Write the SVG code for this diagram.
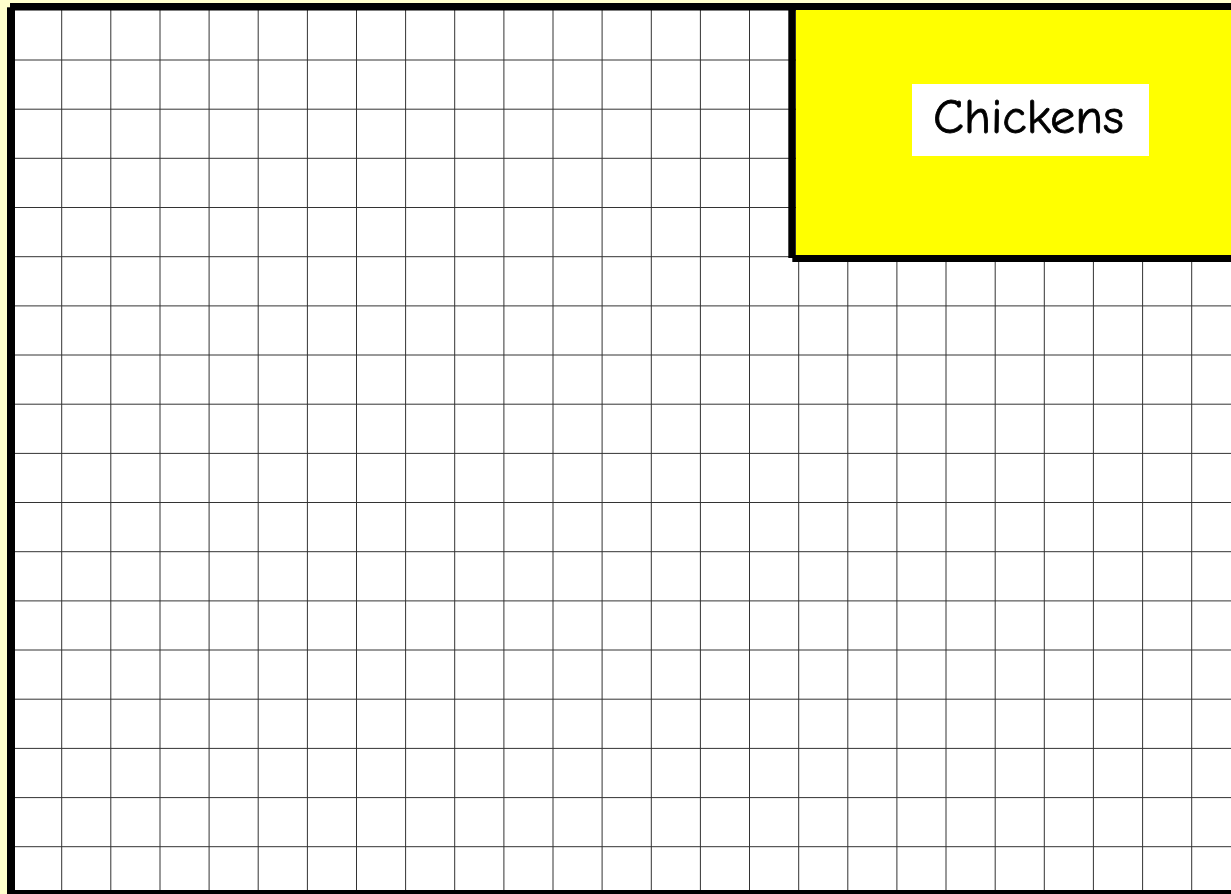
<svg xmlns="http://www.w3.org/2000/svg" width="1231" height="894" viewBox="0 0 1231 894">
<style>
.grid{fill:none;stroke:#333;stroke-width:1}
.frame{fill:#000}
.label{font-family:"Comic Sans MS","Comic Neue","Liberation Sans",sans-serif;font-size:49px;fill:#000;stroke:#000;stroke-width:0.8}
</style>
<rect x="0" y="0" width="1231" height="894" fill="#FFFFCC"/>
<g id="sheet">
<rect x="15" y="10" width="1216" height="880" fill="#fff"/>
<path class="grid" d="M61.7 10V890M110.8 10V890M160 10V890M209.1 10V890M258.2 10V890M307.4 10V890M356.5 10V890M405.6 10V890M454.7 10V890M503.9 10V890M553 10V890M602.1 10V890M651.3 10V890M700.4 10V890M749.5 10V890M798.7 10V890M847.8 10V890M896.9 10V890M946 10V890M995.2 10V890M1044.3 10V890M1093.4 10V890M1142.6 10V890M1191.7 10V890"/>
<path class="grid" d="M15 60H1231M15 109.2H1231M15 158.3H1231M15 207.5H1231M15 256.7H1231M15 305.9H1231M15 355H1231M15 404.2H1231M15 453.4H1231M15 502.5H1231M15 551.7H1231M15 600.9H1231M15 650H1231M15 699.2H1231M15 748.4H1231M15 797.6H1231M15 846.7H1231"/>
<rect class="frame" x="10" y="3" width="1221" height="7.5"/>
<rect class="frame" x="7" y="7.3" width="8" height="886.7"/>
<rect class="frame" x="7" y="890" width="1224" height="4"/>
</g>
<g id="chickens">
<rect x="796" y="10" width="435" height="245" fill="#FFFF00"/>
<rect class="frame" x="788.3" y="10" width="7.5" height="248"/>
<rect class="frame" x="792.3" y="255" width="438.7" height="7"/>
<rect x="912" y="84" width="237" height="72" fill="#fff"/>
<text class="label" x="933" y="133" textLength="191" lengthAdjust="spacingAndGlyphs">Chickens</text>
</g>
</svg>
